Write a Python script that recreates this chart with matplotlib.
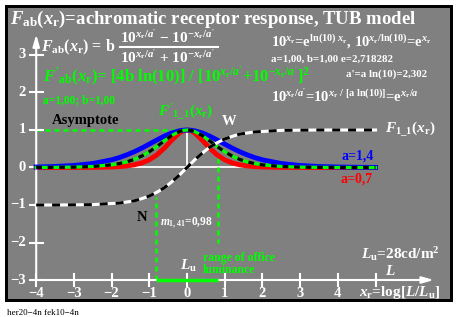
import matplotlib
matplotlib.use("Agg")
import matplotlib.pyplot as plt

plt.rcParams['font.family'] = ['Liberation Serif', 'DejaVu Serif']
plt.rcParams['font.weight'] = 'bold'
plt.rcParams['mathtext.fontset'] = 'custom'
plt.rcParams['mathtext.rm'] = 'Liberation Serif:bold'
plt.rcParams['mathtext.it'] = 'Liberation Serif:italic:bold'
plt.rcParams['mathtext.bf'] = 'Liberation Serif:bold'

# values
x = [-4, -3.5, -3, -2.5, -2, -1.8, -1.6, -1.4, -1.2, -1, -0.8, -0.6, -0.4, -0.2, -0.1,
     0, 0.1, 0.2, 0.4, 0.6, 0.8, 1, 1.2, 1.4, 1.6, 1.8, 2, 2.5, 3, 3.5, 4, 4.5, 5]
f11 = [-1.00, -1.00, -0.995, -0.99, -0.96, -0.95, -0.92, -0.89, -0.83, -0.76, -0.66, -0.54, -0.38, -0.20, -0.10,
       0.00, 0.10, 0.20, 0.38, 0.54, 0.66, 0.76, 0.83, 0.89, 0.92, 0.95, 0.96, 0.99, 0.995, 1.00, 1.00, 1.00, 1.00]
deriv_a10 = [0.001, 0.004, 0.010, 0.027, 0.071, 0.104, 0.150, 0.216, 0.305, 0.420, 0.559, 0.712, 0.856, 0.961, 0.990,
             1.000, 0.990, 0.961, 0.856, 0.712, 0.559, 0.420, 0.305, 0.216, 0.150, 0.104, 0.071, 0.027, 0.010, 0.004, 0.001, 0.000, 0.000]
deriv_a14 = [0.013, 0.027, 0.054, 0.106, 0.205, 0.263, 0.336, 0.420, 0.517, 0.624, 0.733, 0.837, 0.923, 0.980, 0.995,
             1.000, 0.995, 0.980, 0.923, 0.837, 0.733, 0.624, 0.517, 0.420, 0.336, 0.263, 0.205, 0.106, 0.054, 0.027, 0.013, 0.006, 0.003]
deriv_a07 = [0.000, 0.000, 0.001, 0.003, 0.013, 0.023, 0.041, 0.071, 0.122, 0.205, 0.336, 0.517, 0.733, 0.923, 0.980,
             1.000, 0.980, 0.923, 0.733, 0.517, 0.336, 0.205, 0.122, 0.071, 0.041, 0.023, 0.013, 0.003, 0.001, 0.000, 0.000, 0.000, 0.000]
office_range = [-0.81, 0.81]
xticks = [-4, -3, -2, -1, 0, 1, 2, 3, 4, 5]
xtick_labels = ['\u22124', '\u22123', '\u22122', '\u22121', '0', '1', '2', '3', '4', '']
yticks = [-3, -2, -1, 0, 1, 2, 3]
ytick_labels = ['\u22123', '\u22122', '\u22121', '0', '1', '2', '3']

W, H = 457, 317
X0, XS = 187.0, 37.7
Y0, YS = 167.5, 37.5


def P(px, py):
    # reference pixel -> data coordinates
    return (px - X0) / XS, (Y0 - py) / YS


fig = plt.figure(figsize=(W / 100, H / 100), dpi=100)
fig.patch.set_facecolor('white')

# black frame behind the grey plot area
frame = fig.add_axes([5 / W, 1 - 302 / H, 448 / W, 297 / H])
frame.set_facecolor('black')
frame.set_xticks([])
frame.set_yticks([])
for s in frame.spines.values():
    s.set_visible(False)

ax = fig.add_axes([8 / W, 1 - 299 / H, 442 / W, 291 / H])
ax.set_facecolor('#808080')
ax.set_xlim(P(8, 0)[0], P(450, 0)[0])
ax.set_ylim(P(0, 299)[1], P(0, 8)[1])
ax.set_xticks([])
ax.set_yticks([])
for s in ax.spines.values():
    s.set_visible(False)

# axes with arrows
ax.annotate('', xy=(6.55, -3), xytext=(-4, -3),
            arrowprops=dict(arrowstyle='-|>,head_width=0.2,head_length=0.7', color='white', lw=1.5, shrinkA=0, shrinkB=0))
ax.annotate('', xy=(-4, 3.55), xytext=(-4, -3),
            arrowprops=dict(arrowstyle='-|>,head_width=0.2,head_length=0.7', color='white', lw=1.5, shrinkA=0, shrinkB=0))
for t, lab in zip(xticks, xtick_labels):
    ax.plot([t, t], [-3.17, -2.83], color='white', lw=1.5)
    ax.text(t, -3.35, lab, color='white', fontsize=10.5, ha='center', va='center')
for t, lab in zip(yticks, ytick_labels):
    ax.plot([-4.17, -3.83], [t, t], color='white', lw=1.5)
    ax.text(-4.27, t, lab, color='white', fontsize=10.5, ha='right', va='center')

# reference lines
ax.plot([-4, 5], [0, 0], color='white', lw=1.3, zorder=1)
ax.plot([0, 0], [0, 1], color='white', lw=1.3, zorder=1)
ax.plot([-4, 0], [1, 1], color='#00ff00', lw=1.8, dashes=(2, 1.6), zorder=1)
ax.plot([office_range[0]] * 2, [-3, -0.8], color='#00ff00', lw=1.8, dashes=(2, 1.6), zorder=1)
ax.plot([office_range[1]] * 2, [0.25, -2.0], color='#00ff00', lw=1.8, dashes=(2, 1.6), zorder=1)
ax.plot(office_range, [-3, -3], color='#00ff00', lw=2.5, zorder=3, solid_capstyle='butt')

# curves
ax.plot(x, deriv_a07, color='red', lw=3.5, zorder=2)
ax.plot(x, deriv_a14, color='blue', lw=3.5, zorder=3)
ax.plot(x, deriv_a10, color='#00ff00', lw=2.3, zorder=4)
ax.plot(x, deriv_a10, color='black', lw=2.3, dashes=(1.8, 1.8), zorder=4)
ax.plot(x, f11, color='white', lw=2.2, zorder=5)
ax.plot(x, f11, color='black', lw=2.2, dashes=(2.6, 2.6), zorder=5)


def T(px, py, s, **kw):
    kw.setdefault('color', 'white')
    kw.setdefault('fontsize', 10)
    kw.setdefault('ha', 'left')
    kw.setdefault('va', 'baseline')
    ax.text(*P(px, py), s, **kw)


G = '#00ff00'
T(10, 24, r'$F_{\rm ab}(x_{\rm r})$=achromatic receptor response, TUB model', fontsize=13.5)
T(41, 51, r'$F_{\rm ab}(x_{\rm r})$ = b', fontsize=11.5)
T(120, 43, r"10$^{x_{\rm r}/a'}$ $-$ 10$^{-x_{\rm r}/a'}$", fontsize=11)
T(120, 63, r"10$^{x_{\rm r}/a'}$ + 10$^{-x_{\rm r}/a'}$", fontsize=11)
ax.plot([P(120, 0)[0], P(218, 0)[0]], [P(0, 47)[1]] * 2, color='white', lw=1.5)
T(43, 82, r"$F'_{\rm ab}(x_{\rm r})$= [4b ln(10)] / [10$^{x_{\rm r}/a'}$+10$^{-x_{\rm r}/a'}$]$^2$", fontsize=12, color=G)
T(43, 103, 'a=1,00; b=1,00', fontsize=8.3, color=G)
T(271, 47, r'10$^{x_{\rm r}}$=e$^{\rm ln(10)\ \mathit{x}_{\rm r}}$, 10$^{x_{\rm r}/{\rm ln(10)}}$=e$^{x_{\rm r}}$', fontsize=10.5)
T(271, 62, 'a=1,00, b=1,00 e=2,718282', fontsize=7.8)
T(346, 77, "a'=a ln(10)=2,302", fontsize=7.8)
T(271, 102, r"10$^{x_{\rm r}/a'}$=10$^{x_{\rm r}\ /\ {\rm [a\ ln(10)]}}$=e$^{x_{\rm r}/a}$", fontsize=10.5)

T(52, 124, 'Asymptote', color='black', fontsize=10.5)
T(158, 116, r"$F'_{\rm 1\_1}(x_{\rm r})$", color=G, fontsize=11)
T(222, 125, 'W', fontsize=10.5)
T(385, 132, r'$F_{\rm 1\_1}(x_{\rm r})$', fontsize=11)
T(374, 160, 'a=1,4', color='blue', fontsize=10, ha='right')
T(373, 183, 'a=0,7', color='red', fontsize=10, ha='right')
T(137, 221, 'N', color='black', fontsize=10.5)
T(160, 226, r'$m_{\rm 1,41}$=0,98', fontsize=8.3)
T(180, 270, r'$L_{\rm u}$', fontsize=11)
T(203, 261, 'range of office', color=G, fontsize=8.5)
T(203, 273, 'luminance', color=G, fontsize=8.5)
T(361, 259, r'$L_{\rm u}$=28cd/m$^2$', fontsize=11)
T(385, 275, r'$L$', fontsize=11)
T(359, 296, r'$x_{\rm r}$=log[$L/L_{\rm u}$]', fontsize=11)

fig.text(7 / W, 1 - 315 / H, 'her20\u22124n fek10\u22124n', fontsize=6.5, color='black',
         fontweight='normal', ha='left', va='baseline')

fig.savefig('out.png', dpi=100, facecolor='white')
